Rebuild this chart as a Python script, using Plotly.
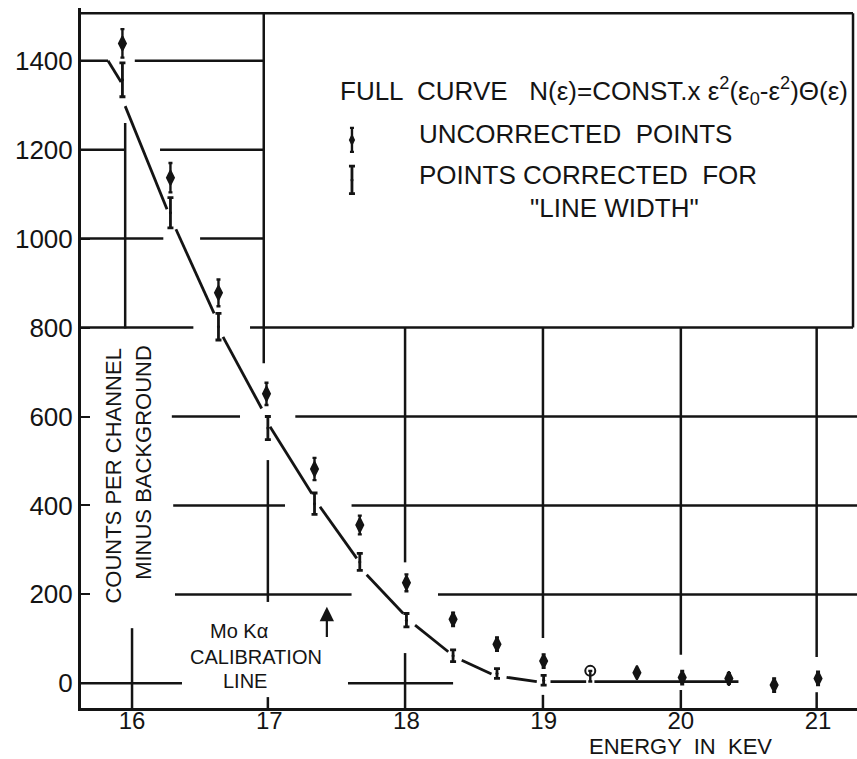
import plotly.graph_objects as go

# ---- measured spectrum (energy in keV, counts per channel minus background) ----
energy = [15.93, 16.28, 16.63, 16.98, 17.33, 17.66, 18.00, 18.34,
          18.66, 19.00, 19.34, 19.68, 20.01, 20.35, 20.68, 21.00]
uncorrected = [1439, 1137, 878, 651, 482, 356, 226, 144,
               88, 50, 28, 24, 13, 11, -4, 11]
unc_err_plus = [32, 33, 30, 25, 25, 21, 19, 15, 15, 15, 0, 8, 15, 12, 15, 15]
unc_err_minus = [32, 33, 30, 25, 25, 21, 19, 15, 15, 15, 24, 8, 15, 12, 15, 15]
unc_symbol = ["diamond-tall"] * 10 + ["circle-open"] + ["diamond-tall"] * 5

energy_corr = [15.93, 16.28, 16.63, 16.99, 17.33, 17.66, 18.00, 18.34, 18.66, 19.00]
corrected = [1357, 1058, 802, 574, 404, 273, 142, 62, 22, 7]
corr_err = [38, 34, 30, 26, 24, 19, 15, 13, 11, 11]

# theoretical curve, drawn in pieces broken at the corrected points
curve_e = [15.825, 15.92, None, 15.95, 16.255, None, 16.32, 16.598, None,
           16.663, 16.945, None, 17.006, 17.31, None, 17.37, 17.638, None,
           17.71, 17.977, None, 18.063, 18.305, None, 18.403, 18.62, None,
           18.73, 18.95, None, 19.05, 19.31, None, 19.37, 20.42]
curve_n = [1400, 1352, None, 1298, 1066, None, 1021, 832, None,
           779, 618, None, 577, 427, None, 397, 281, None,
           244, 157, None, 131, 71, None, 52, 21, None,
           13.5, 4, None, 4, 4, None, 4, 4]

x_ticks = [16, 17, 18, 19, 20, 21]
y_ticks = [0, 200, 400, 600, 800, 1000, 1200, 1400]

# ---- frame / hand-drawn grid geometry ----
XMIN, XMAX = 15.628, 21.284
YMIN, YMAX = -55.5, 1518.6
TOP = 1507
BOX_LEFT, BOX_RIGHT, BOX_BOTTOM = 16.96, 21.255, 800

grid_h = {
    1400: [(XMIN, 15.825), (16.02, BOX_LEFT)],
    1200: [(XMIN, 15.95), (16.204, BOX_LEFT)],
    1000: [(XMIN, 16.228), (16.496, BOX_LEFT)],
    800: [(XMIN, 16.447), (16.86, BOX_RIGHT)],
    600: [(16.29, 16.787), (17.19, XMAX)],
    400: [(16.30, 17.115), (17.60, XMAX)],
    200: [(16.313, 17.60), (18.23, XMAX)],
    0: [(XMIN, 16.364), (17.574, 18.34)],
    TOP: [(XMIN, BOX_RIGHT)],
}
grid_v = [
    (15.95, [(798, 1260)]),
    (16.00, [(YMIN, 124)]),
    (BOX_LEFT, [(720, TOP)]),
    (16.99, [(183, 502), (YMIN, -31)]),
    (17.99, [(272, 800), (YMIN, 68)]),
    (18.995, [(102, 800), (YMIN, -26)]),
    (20.00, [(64, 800), (YMIN, -15)]),
    (20.99, [(59, 800), (YMIN, -20)]),
    (BOX_RIGHT, [(800, TOP)]),
]

INK = "#141414"
FONT = "Liberation Sans, Arial, sans-serif"
GRID_W = 2.5

fig = go.Figure()

fig.add_trace(go.Scatter(
    x=curve_e, y=curve_n, mode="lines",
    line=dict(color=INK, width=2.8), connectgaps=False,
    hoverinfo="skip", showlegend=False,
))

fig.add_trace(go.Scatter(
    x=energy_corr, y=corrected, mode="markers",
    marker=dict(size=3, color=INK),
    error_y=dict(type="data", array=corr_err, color=INK, thickness=2.8, width=3),
    name="corrected", showlegend=False,
))

fig.add_trace(go.Scatter(
    x=energy, y=uncorrected, mode="markers",
    marker=dict(size=10, color=INK, symbol=unc_symbol,
                line=dict(color=INK, width=2)),
    error_y=dict(type="data", symmetric=False, array=unc_err_plus,
                 arrayminus=unc_err_minus, color=INK, thickness=2.4, width=2),
    name="uncorrected", showlegend=False,
))

# legend glyphs inside the key box
fig.add_trace(go.Scatter(
    x=[17.603], y=[1222], mode="markers",
    marker=dict(size=9, color=INK, symbol="diamond-tall"),
    error_y=dict(type="data", array=[27], color=INK, thickness=2.4, width=2),
    hoverinfo="skip", showlegend=False,
))
fig.add_trace(go.Scatter(
    x=[17.603], y=[1132], mode="markers",
    marker=dict(size=3, color=INK),
    error_y=dict(type="data", array=[31], color=INK, thickness=2.8, width=3),
    hoverinfo="skip", showlegend=False,
))

shapes = []
for yv, segs in grid_h.items():
    for x0, x1 in segs:
        shapes.append(dict(type="line", xref="x", yref="y", x0=x0, x1=x1, y0=yv, y1=yv,
                           line=dict(color=INK, width=GRID_W), layer="below"))
for xv, segs in grid_v:
    for y0, y1 in segs:
        shapes.append(dict(type="line", xref="x", yref="y", x0=xv, x1=xv, y0=y0, y1=y1,
                           line=dict(color=INK, width=GRID_W), layer="below"))

annotations = [
    dict(x=17.50, y=1332, xanchor="left", yanchor="middle", showarrow=False,
         text="FULL  CURVE   N(ε)=CONST.x ε<sup>2</sup>(ε<sub>0</sub>-ε<sup>2</sup>)Θ(ε)",
         font=dict(size=26, color=INK, family=FONT)),
    dict(x=18.077, y=1235, xanchor="left", yanchor="middle", showarrow=False,
         text="UNCORRECTED  POINTS", font=dict(size=26, color=INK, family=FONT)),
    dict(x=18.077, y=1143, xanchor="left", yanchor="middle", showarrow=False,
         text="POINTS CORRECTED  FOR", font=dict(size=26, color=INK, family=FONT)),
    dict(x=19.513, y=1069, xanchor="center", yanchor="middle", showarrow=False,
         text="\"LINE WIDTH\"", font=dict(size=26, color=INK, family=FONT)),
    dict(x=15.865, y=466, textangle=-90, showarrow=False,
         text="COUNTS PER CHANNEL", font=dict(size=22, color=INK, family=FONT)),
    dict(x=16.084, y=497, textangle=-90, showarrow=False,
         text="MINUS BACKGROUND", font=dict(size=22, color=INK, family=FONT)),
    dict(x=16.78, y=118, showarrow=False, text="Mo Kα",
         font=dict(size=20, color=INK, family=FONT)),
    dict(x=16.907, y=59, showarrow=False, text="CALIBRATION",
         font=dict(size=20, color=INK, family=FONT)),
    dict(x=16.824, y=5, showarrow=False, text="LINE",
         font=dict(size=20, color=INK, family=FONT)),
    dict(x=17.42, y=172, ax=17.42, ay=101, axref="x", ayref="y",
         xref="x", yref="y", text="", showarrow=True,
         arrowhead=2, arrowsize=1.3, arrowwidth=2.2, arrowcolor=INK),
    dict(x=20.0, y=-0.055, xref="x", yref="paper", xanchor="center", yanchor="middle",
         showarrow=False, text="ENERGY  IN  KEV",
         font=dict(size=22, color=INK, family=FONT)),
]

fig.update_layout(
    width=857, height=759,
    margin=dict(l=81, r=0, t=8, b=51),
    paper_bgcolor="white", plot_bgcolor="white",
    shapes=shapes, annotations=annotations,
    font=dict(family=FONT, color=INK),
)
fig.update_xaxes(
    range=[XMIN, XMAX], tickvals=x_ticks, ticktext=[str(v) for v in x_ticks],
    showgrid=False, zeroline=False, showline=True, linecolor=INK, linewidth=3,
    ticks="", tickfont=dict(size=24, color=INK, family=FONT), ticklabelstandoff=-11,
)
fig.update_yaxes(
    range=[YMIN, YMAX], tickvals=y_ticks, ticktext=[str(v) for v in y_ticks],
    showgrid=False, zeroline=False, showline=True, linecolor=INK, linewidth=3,
    ticks="inside", ticklen=9, tickwidth=2, tickcolor=INK,
    tickfont=dict(size=26, color=INK, family=FONT), ticklabelstandoff=0,
)

fig.write_html("out.html")
